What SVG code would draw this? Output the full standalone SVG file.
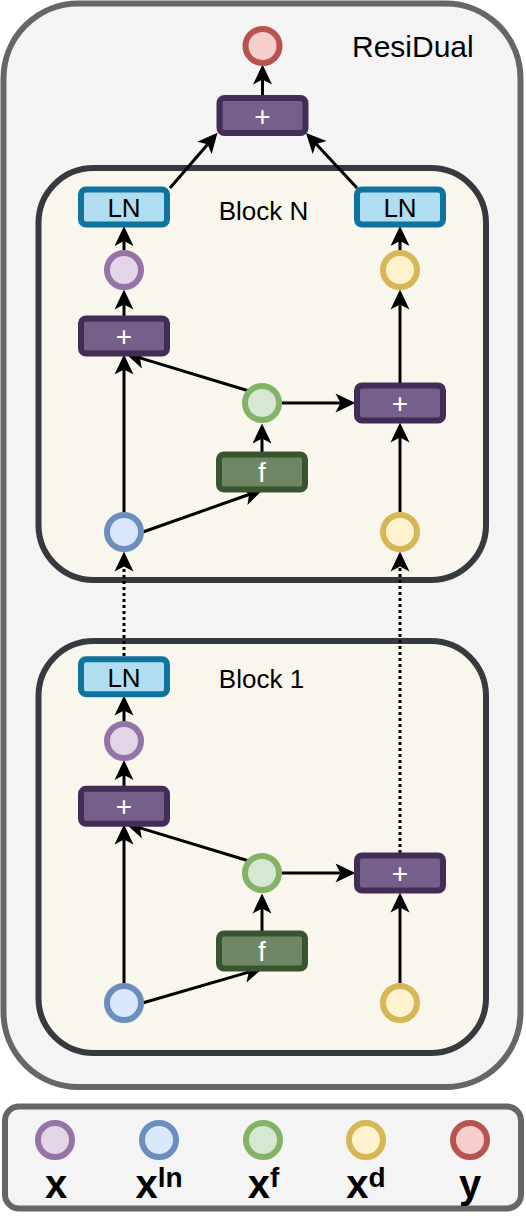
<svg xmlns="http://www.w3.org/2000/svg" width="526" height="1220" viewBox="0 0 526 1220">
<style>
.lbl{font-family:"Liberation Sans",Arial,sans-serif;fill:#000}
.wt{font-family:"Liberation Sans",Arial,sans-serif;fill:#fff;font-size:28px;text-anchor:middle}
.ln{fill:#b1ddf0;stroke:#10739e;stroke-width:6}
.plus{fill:#76608a;stroke:#432d57;stroke-width:6}
.fbox{fill:#6d8764;stroke:#3a5431;stroke-width:6}
.cx{fill:#e1d5e7;stroke:#9673a6;stroke-width:6}
.cln{fill:#dae8fc;stroke:#6c8ebf;stroke-width:6}
.cf{fill:#d5e8d4;stroke:#82b366;stroke-width:6}
.cd{fill:#fff2cc;stroke:#d6b656;stroke-width:6}
.cy{fill:#f8cecc;stroke:#b85450;stroke-width:6}
.block{fill:#f9f7ed;stroke:#36393d;stroke-width:6}
.edge{stroke:#000;stroke-width:3;fill:none;marker-end:url(#arr)}
.dot{stroke-dasharray:3 3}
.leg{font-family:"Liberation Sans",Arial,sans-serif;font-weight:bold;font-size:40px;text-anchor:middle;fill:#000}
</style>
<defs>
<marker id="arr" viewBox="-21 -11 22 22" markerWidth="22" markerHeight="22" refX="-15" refY="0" orient="auto" markerUnits="userSpaceOnUse" overflow="visible">
<path d="M0,0 L-20,-9.5 L-15,0 L-20,9.5 Z" fill="#000"/>
</marker>
</defs>

<g id="residual">
<rect x="3.5" y="3.5" width="517" height="1083.5" rx="75" fill="#f4f4f4" stroke="#666666" stroke-width="6"/>
<text class="lbl" x="352" y="57" font-size="30">ResiDual</text>
</g>
<g id="blockN">
<rect class="block" x="38.5" y="168" width="447.5" height="412" rx="55"/>
<text class="lbl" x="263.5" y="220" font-size="26" text-anchor="middle">Block N</text>
</g>
<g id="block1">
<rect class="block" x="38.5" y="641" width="447.5" height="412" rx="55"/>
<text class="lbl" x="261.5" y="688" font-size="26" text-anchor="middle">Block 1</text>
</g>

<g id="connectors">
<!-- top -->
<line class="edge" x1="262.5" y1="95" x2="262.5" y2="79.5"/>
<line class="edge" x1="170" y1="188" x2="207.7" y2="144.2"/>
<line class="edge" x1="357" y1="188" x2="316.2" y2="143.9"/>
<!-- block N -->
<line class="edge" x1="124" y1="250" x2="124" y2="241"/>
<line class="edge" x1="400" y1="250" x2="400" y2="241"/>
<line class="edge" x1="124" y1="316" x2="124" y2="304.5"/>
<line class="edge" x1="400" y1="383" x2="400" y2="304.5"/>
<line class="edge" x1="124" y1="512" x2="124" y2="369.5"/>
<line class="edge" x1="249" y1="391" x2="139.9" y2="357.9"/>
<line class="edge" x1="282" y1="403" x2="340.5" y2="403"/>
<line class="edge" x1="143" y1="532" x2="249" y2="494.5"/>
<line class="edge" x1="262" y1="452" x2="262" y2="438.5"/>
<line class="edge" x1="400" y1="512" x2="400" y2="437.5"/>
<!-- dotted links -->
<line class="edge dot" x1="124" y1="656" x2="124" y2="566.5"/>
<line class="edge dot" x1="400" y1="853" x2="400" y2="566.5"/>
<!-- block 1 -->
<line class="edge" x1="124" y1="721" x2="124" y2="710.5"/>
<line class="edge" x1="124" y1="786" x2="124" y2="775"/>
<line class="edge" x1="124" y1="983" x2="124" y2="839.5"/>
<line class="edge" x1="249" y1="861" x2="139.9" y2="827.9"/>
<line class="edge" x1="282" y1="873" x2="340.5" y2="873"/>
<line class="edge" x1="143.3" y1="1002.7" x2="248.7" y2="972.1"/>
<line class="edge" x1="262" y1="931" x2="262" y2="908.5"/>
<line class="edge" x1="400" y1="983" x2="400" y2="907.5"/>
</g>

<g id="y-out"><circle class="cy" cx="262.5" cy="46" r="17"/></g>
<g id="plus-top"><rect class="plus" x="219.5" y="98" width="86" height="35" rx="5"/><text class="wt" x="262.5" y="125.5">+</text></g>

<g id="ln-left-N"><rect class="ln" x="81" y="189.5" width="86" height="35" rx="5"/><text class="lbl" x="124" y="216.5" font-size="26" text-anchor="middle">LN</text></g>
<g id="ln-right-N"><rect class="ln" x="357" y="189.5" width="86" height="35" rx="5"/><text class="lbl" x="400" y="216.5" font-size="26" text-anchor="middle">LN</text></g>
<g id="x-N"><circle class="cx" cx="124" cy="270" r="17"/></g>
<g id="xd-out-N"><circle class="cd" cx="400" cy="270" r="17"/></g>
<g id="plus-left-N"><rect class="plus" x="81" y="318.5" width="86" height="35" rx="5"/><text class="wt" x="124" y="346">+</text></g>
<g id="xf-N"><circle class="cf" cx="262" cy="403" r="17"/></g>
<g id="plus-right-N"><rect class="plus" x="357" y="385.5" width="86" height="35" rx="5"/><text class="wt" x="400" y="413">+</text></g>
<g id="f-N"><rect class="fbox" x="219" y="454.5" width="86" height="35" rx="5"/><text class="wt" x="262" y="482">f</text></g>
<g id="xln-N"><circle class="cln" cx="124" cy="532" r="17"/></g>
<g id="xd-in-N"><circle class="cd" cx="400" cy="532" r="17"/></g>

<g id="ln-1"><rect class="ln" x="81" y="659.2" width="86" height="35" rx="5"/><text class="lbl" x="124" y="686.5" font-size="26" text-anchor="middle">LN</text></g>
<g id="x-1"><circle class="cx" cx="124" cy="741" r="17"/></g>
<g id="plus-left-1"><rect class="plus" x="81" y="788.8" width="86" height="35" rx="5"/><text class="wt" x="124" y="816.3">+</text></g>
<g id="xf-1"><circle class="cf" cx="262" cy="873" r="17"/></g>
<g id="plus-right-1"><rect class="plus" x="357" y="855.5" width="86" height="35" rx="5"/><text class="wt" x="400" y="883">+</text></g>
<g id="f-1"><rect class="fbox" x="219" y="933.5" width="86" height="35" rx="5"/><text class="wt" x="262" y="961">f</text></g>
<g id="xln-1"><circle class="cln" cx="124" cy="1003" r="17"/></g>
<g id="xd-in-1"><circle class="cd" cx="400" cy="1003" r="17"/></g>

<g id="legend">
<rect x="5" y="1106.5" width="516" height="102" rx="14" fill="#f4f4f4" stroke="#666666" stroke-width="6"/>
<circle class="cx" cx="55" cy="1140" r="17"/>
<circle class="cln" cx="159" cy="1140" r="17"/>
<circle class="cf" cx="263" cy="1140" r="17"/>
<circle class="cd" cx="366" cy="1140" r="17"/>
<circle class="cy" cx="470" cy="1140" r="17"/>
<text class="leg" x="56" y="1198">x</text>
<text class="leg" x="159" y="1198">x<tspan dy="-11.5" font-size="28">ln</tspan></text>
<text class="leg" x="263.5" y="1198">x<tspan dy="-11.5" font-size="28">f</tspan></text>
<text class="leg" x="366" y="1198">x<tspan dy="-11.5" font-size="28">d</tspan></text>
<text class="leg" x="470" y="1198">y</text>
</g>
</svg>
